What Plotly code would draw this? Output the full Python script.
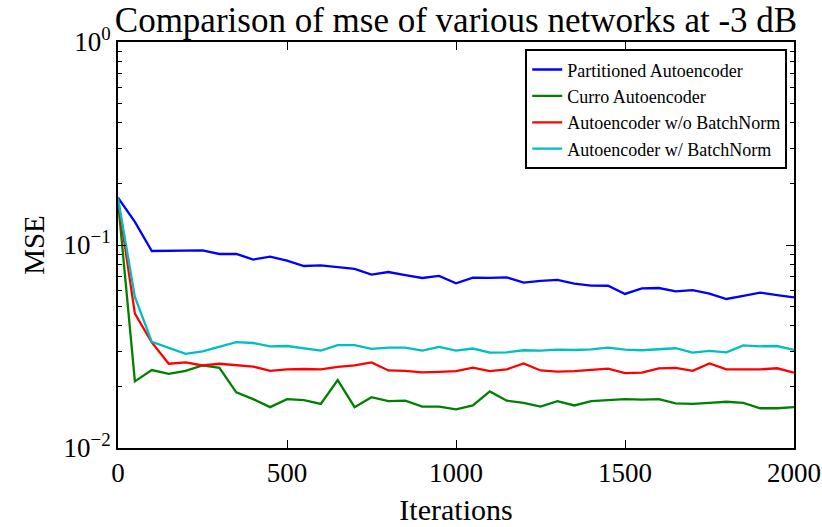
import plotly.graph_objects as go

iterations = list(range(0, 2001, 50))

partitioned = [0.171, 0.130, 0.0934, 0.0934, 0.0934, 0.0940, 0.0903, 0.0905, 0.0848, 0.0877,
               0.0838, 0.0788, 0.0794, 0.0780, 0.0762, 0.0715, 0.0736, 0.0711, 0.0688, 0.0704,
               0.0647, 0.0691, 0.0688, 0.0693, 0.0653, 0.0665, 0.0673, 0.0645, 0.0631, 0.0630,
               0.0574, 0.0612, 0.0614, 0.0591, 0.0600, 0.0576, 0.0542, 0.0561, 0.0583, 0.0567,
               0.0552]
curro = [0.165, 0.0213, 0.0242, 0.0232, 0.0240, 0.0255, 0.0248, 0.0188, 0.0174, 0.0159,
         0.0174, 0.0172, 0.0165, 0.0216, 0.0159, 0.0178, 0.0170, 0.0171, 0.0160, 0.0160,
         0.0155, 0.0162, 0.0190, 0.0171, 0.0167, 0.0160, 0.0170, 0.0162, 0.0170, 0.0172,
         0.0174, 0.0173, 0.0174, 0.0166, 0.0165, 0.0167, 0.0169, 0.0167, 0.0157, 0.0157,
         0.0159]
no_bn = [0.168, 0.0459, 0.0331, 0.0260, 0.0264, 0.0255, 0.0260, 0.0257, 0.0252, 0.0240,
         0.0244, 0.0245, 0.0244, 0.0251, 0.0255, 0.0264, 0.0241, 0.0240, 0.0236, 0.0237,
         0.0239, 0.0249, 0.0239, 0.0244, 0.0261, 0.0241, 0.0238, 0.0239, 0.0242, 0.0246,
         0.0234, 0.0235, 0.0247, 0.0248, 0.0240, 0.0261, 0.0244, 0.0243, 0.0244, 0.0247,
         0.0235]
with_bn = [0.170, 0.0555, 0.0333, 0.0311, 0.0291, 0.0299, 0.0315, 0.0332, 0.0329, 0.0317,
           0.0318, 0.0309, 0.0302, 0.0321, 0.0321, 0.0308, 0.0312, 0.0312, 0.0302, 0.0315,
           0.0302, 0.0309, 0.0295, 0.0296, 0.0303, 0.0302, 0.0305, 0.0304, 0.0306, 0.0312,
           0.0305, 0.0303, 0.0306, 0.0310, 0.0295, 0.0301, 0.0296, 0.0320, 0.0317, 0.0318,
           0.0304]

series = [
    ("Partitioned Autoencoder", partitioned, "#0000ff"),
    ("Curro Autoencoder", curro, "#008000"),
    ("Autoencoder w/o BatchNorm", no_bn, "#ff0000"),
    ("Autoencoder w/ BatchNorm", with_bn, "#00bfbf"),
]

x_ticks = [0, 500, 1000, 1500, 2000]
y_ticks = [1, 0.1, 0.01]
y_ticktext = ["10<sup>0</sup>", "10<sup>\u22121</sup>", "10<sup>\u22122</sup>"]

FONT = "Liberation Serif"

fig = go.Figure()
for name, vals, color in series:
    fig.add_trace(go.Scatter(x=iterations, y=vals, mode="lines", name=name,
                             line=dict(color=color, width=2.3)))

minor_vals = [m * 10 ** e for e in (-2, -1) for m in range(2, 10)]

fig.update_layout(
    width=822, height=527,
    margin=dict(l=118, r=28, t=42, b=79, autoexpand=False),
    paper_bgcolor="white", plot_bgcolor="white",
    font=dict(family=FONT, color="black", size=27),
    title=dict(text="Comparison of mse of various networks at -3 dB",
               font=dict(family=FONT, size=35, color="black"),
               xref="paper", x=0.5, xanchor="center",
               yref="container", y=0.962, yanchor="middle"),
    showlegend=True,
    legend=dict(x=0.99, y=0.982, xanchor="right", yanchor="top",
                bgcolor="white", bordercolor="black", borderwidth=2,
                font=dict(family=FONT, size=18, color="black"),
                tracegroupgap=0),
)
fig.update_xaxes(range=[0, 2000], tickvals=x_ticks, ticks="inside", ticklen=8,
                 tickwidth=1, tickcolor="black", showline=True, linecolor="black",
                 linewidth=2, mirror="ticks", showgrid=False, zeroline=False,
                 automargin=False, tickfont=dict(size=27),
                 title=dict(text="Iterations", font=dict(size=30), standoff=12))
fig.update_yaxes(type="log", range=[-2, 0], tickvals=y_ticks, ticktext=y_ticktext,
                 ticks="inside", ticklen=8, tickwidth=1, tickcolor="black",
                 showline=True, linecolor="black", linewidth=2, mirror="ticks",
                 showgrid=False, zeroline=False, automargin=False, tickfont=dict(size=27),
                 minor=dict(tickvals=minor_vals, ticks="inside", ticklen=4,
                            tickcolor="black", tickwidth=1, showgrid=False),
                 title=dict(text="MSE", font=dict(size=29), standoff=10))

fig.write_html("out.html")
